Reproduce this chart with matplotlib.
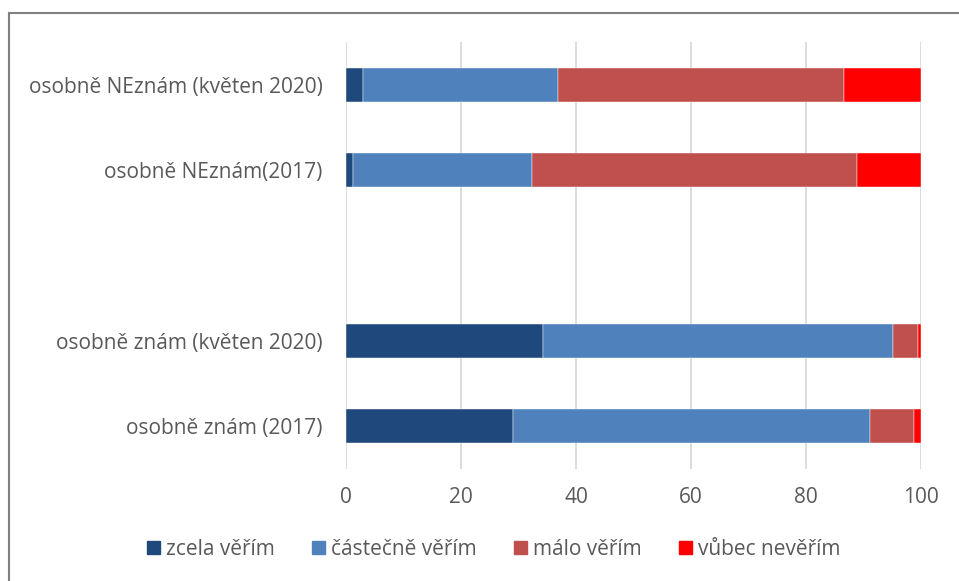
import numpy as np
import matplotlib
matplotlib.use('Agg')
from matplotlib import pyplot as plt
from matplotlib.lines import Line2D

# categories from top to bottom, '' is the empty slot between groups
categories = ['osobně NEznám (květen 2020)', 'osobně NEznám(2017)', '',
              'osobně znám (květen 2020)', 'osobně znám (2017)']
series = ['zcela věřím', 'částečně věřím', 'málo věřím', 'vůbec nevěřím']
zcela = [2.9, 1.3, np.nan, 34.3, 29.0]
castecne = [34.0, 31.1, np.nan, 60.8, 62.1]
malo = [49.7, 56.5, np.nan, 4.4, 7.7]
vubec = [13.4, 11.1, np.nan, 0.5, 1.2]
xticks = [0, 20, 40, 60, 80, 100]

colors = ['#1F497D', '#4F81BD', '#C0504D', '#FF0000']
txt = '#595959'
fs = 15
plt.rcParams['font.family'] = ['Open Sans', 'DejaVu Sans']

fig = plt.figure(figsize=(9.59, 5.81), dpi=100)
ax = fig.add_axes([0.3608, 0.1928, 0.5996, 0.7349])

y = np.arange(len(categories))
left = np.zeros(len(categories))
for vals, col, name in zip([zcela, castecne, malo, vubec], colors, series):
    v = np.array(vals, dtype=float)
    ok = ~np.isnan(v)
    ax.barh(y[ok], v[ok], left=left[ok], height=0.4, color=col, label=name,
            edgecolor='white', linewidth=0.3)
    left = left + np.nan_to_num(v)

ax.set_ylim(len(categories) - 0.5, -0.5)
ax.set_xlim(0, 100)
ax.set_yticks(y)
ax.set_yticklabels(categories, fontsize=fs, color=txt)
ax.set_xticks(xticks)
ax.set_xticklabels([str(t) for t in xticks], fontsize=fs, color=txt)
ax.tick_params(axis='x', length=0, pad=13)
ax.tick_params(axis='y', length=0, pad=17)
ax.grid(axis='x', color='#d9d9d9', linewidth=1.3)
ax.set_axisbelow(True)
for s in ax.spines.values():
    s.set_visible(False)

handles = [plt.Rectangle((0, 0), 1, 1, color=c) for c in colors]
fig.legend(handles, series, loc='center', bbox_to_anchor=(0.515, 0.054),
           ncol=4, frameon=False, fontsize=fs, labelcolor=txt,
           handlelength=0.6, handleheight=0.6, handletextpad=0.3,
           columnspacing=1.8)

# chart frame (left and top edges visible)
fig.add_artist(Line2D([0.009, 0.009], [0, 1 - 13 / 581], color='#808080',
                      linewidth=1.5, transform=fig.transFigure))
fig.add_artist(Line2D([0.009, 1], [1 - 13 / 581, 1 - 13 / 581], color='#808080',
                      linewidth=1.5, transform=fig.transFigure))

fig.savefig('out.png', dpi=100)
